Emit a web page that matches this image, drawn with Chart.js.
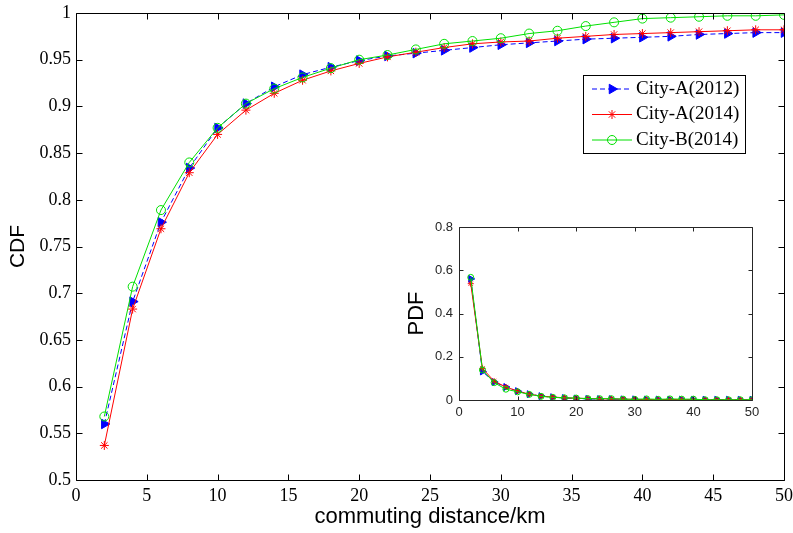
<!DOCTYPE html>
<html>
<head>
<meta charset="utf-8">
<script src="https://cdn.jsdelivr.net/npm/chart.js@4.4.1/dist/chart.umd.min.js"></script>
<style>
  html, body { margin: 0; padding: 0; background: #fff; }
  #wrap { position: relative; width: 793px; height: 533px; }
  #cdf { position: absolute; left: 0; top: 0; }
  #pdf { position: absolute; left: 380px; top: 210px; }
</style>
</head>
<body>
<div id="wrap">
  <canvas id="cdf" width="793" height="533"></canvas>
  <canvas id="pdf" width="390" height="220"></canvas>
</div>
<script>
// commuting distance (km)
const distances = [2, 4, 6, 8, 10, 12, 14, 16, 18, 20, 22, 24, 26, 28, 30, 32, 34, 36, 38, 40, 42, 44, 46, 48, 50];

// CDF, main plot
const cdfA2012 = [0.560, 0.691, 0.776, 0.834, 0.877, 0.903, 0.921, 0.934, 0.942, 0.949, 0.954, 0.957, 0.960, 0.963, 0.966, 0.968, 0.970, 0.972, 0.973, 0.974, 0.975, 0.977, 0.978, 0.979, 0.979];
const cdfA2014 = [0.537, 0.683, 0.769, 0.829, 0.870, 0.896, 0.914, 0.928, 0.938, 0.946, 0.953, 0.958, 0.963, 0.967, 0.969, 0.970, 0.973, 0.975, 0.977, 0.978, 0.979, 0.980, 0.981, 0.982, 0.982];
const cdfB2014 = [0.568, 0.707, 0.789, 0.840, 0.877, 0.903, 0.919, 0.931, 0.941, 0.950, 0.955, 0.961, 0.967, 0.970, 0.973, 0.978, 0.981, 0.986, 0.990, 0.994, 0.995, 0.996, 0.997, 0.997, 0.998];

// PDF, inset
const pdfA2012 = [0.560, 0.132, 0.083, 0.060, 0.041, 0.027, 0.018, 0.013, 0.009, 0.007, 0.005, 0.004, 0.004, 0.003, 0.003, 0.002, 0.002, 0.002, 0.002, 0.001, 0.001, 0.001, 0.001, 0.001, 0.001];
const pdfA2014 = [0.538, 0.146, 0.087, 0.060, 0.041, 0.027, 0.018, 0.014, 0.010, 0.008, 0.007, 0.005, 0.005, 0.004, 0.003, 0.002, 0.002, 0.002, 0.002, 0.001, 0.001, 0.001, 0.001, 0.001, 0.001];
const pdfB2014 = [0.567, 0.139, 0.080, 0.050, 0.038, 0.026, 0.017, 0.012, 0.010, 0.009, 0.006, 0.006, 0.006, 0.004, 0.003, 0.005, 0.003, 0.005, 0.004, 0.004, 0.001, 0.001, 0.001, 0.001, 0.001];

// tick labels
const cdfTicks = [0.5, 0.55, 0.6, 0.65, 0.7, 0.75, 0.8, 0.85, 0.9, 0.95, 1];
const distTicks = [0, 5, 10, 15, 20, 25, 30, 35, 40, 45, 50];
const pdfTicks = [0, 0.2, 0.4, 0.6, 0.8];
const insetDistTicks = [0, 10, 20, 30, 40, 50];

const seriesNames = ['City-A(2012)', 'City-A(2014)', 'City-B(2014)'];

const SERIF = '"Liberation Serif", "Times New Roman", serif';
const SANS = '"Liberation Sans", Arial, sans-serif';

function points(values) {
    return values.map((v, i) => ({ x: distances[i], y: v }));
}

function makeDatasets(a2012, a2014, b2014, r) {
    return [
        {
            label: seriesNames[0], data: points(a2012),
            borderColor: '#0000ff', backgroundColor: '#0000ff', borderWidth: 1, borderDash: [5, 3],
            pointStyle: 'triangle', pointRotation: 90, pointRadius: r + 1,
            pointBackgroundColor: '#0000ff', pointBorderColor: '#0000ff', order: 2
        },
        {
            label: seriesNames[1], data: points(a2014),
            borderColor: '#ff0000', backgroundColor: '#ff0000', borderWidth: 1,
            pointStyle: 'star', pointRadius: r,
            pointBackgroundColor: '#ff0000', pointBorderColor: '#ff0000', order: 1
        },
        {
            label: seriesNames[2], data: points(b2014),
            borderColor: '#00e000', backgroundColor: '#00e000', borderWidth: 1,
            pointStyle: 'circle', pointRadius: r,
            pointBackgroundColor: 'rgba(0,0,0,0)', pointBorderColor: '#00e000', order: 0
        }
    ];
}

// matlab style box with inward ticks on all four sides
const frameTicks = {
    id: 'frameTicks',
    afterDatasetsDraw(chart, args, opts) {
        const { ctx, chartArea: a, scales: { x, y } } = chart;
        const L = Math.round(a.left) + 0.5, R = Math.round(a.right) + 0.5;
        const T = Math.round(a.top) + 0.5, B = Math.round(a.bottom) + 0.5;
        ctx.save();
        ctx.strokeStyle = opts.color;
        ctx.lineWidth = 1;
        ctx.beginPath();
        x.ticks.forEach(t => {
            const px = Math.round(x.getPixelForValue(t.value)) + 0.5;
            ctx.moveTo(px, B); ctx.lineTo(px, B - opts.len);
            ctx.moveTo(px, T); ctx.lineTo(px, T + opts.len);
        });
        y.ticks.forEach(t => {
            const py = Math.round(y.getPixelForValue(t.value)) + 0.5;
            ctx.moveTo(L, py); ctx.lineTo(L + opts.len, py);
            ctx.moveTo(R, py); ctx.lineTo(R - opts.len, py);
        });
        ctx.rect(L, T, R - L, B - T);
        ctx.stroke();
        ctx.restore();
    }
};

// boxed legend inside the plot area
const boxLegend = {
    id: 'boxLegend',
    afterDraw(chart, args, opts) {
        const { ctx } = chart;
        ctx.save();
        ctx.fillStyle = '#fff';
        ctx.fillRect(opts.left, opts.top, opts.width, opts.height);
        ctx.strokeStyle = '#000';
        ctx.lineWidth = 1;
        ctx.strokeRect(opts.left + 0.5, opts.top + 0.5, opts.width, opts.height);
        ctx.font = opts.font;
        ctx.textBaseline = 'middle';
        chart.data.datasets.forEach((ds, i) => {
            const cy = opts.top + opts.rowStart + i * opts.rowGap;
            ctx.strokeStyle = ds.borderColor;
            ctx.setLineDash(ds.borderDash || []);
            ctx.beginPath();
            ctx.moveTo(opts.left + 9, cy);
            ctx.lineTo(opts.left + 49, cy);
            ctx.stroke();
            ctx.setLineDash([]);
            ctx.fillStyle = ds.pointBackgroundColor;
            ctx.strokeStyle = ds.pointBorderColor;
            Chart.helpers.drawPoint(ctx, {
                pointStyle: ds.pointStyle, rotation: ds.pointRotation || 0,
                radius: ds.pointRadius, borderWidth: 1
            }, opts.left + 29, cy);
            ctx.fillStyle = '#000';
            ctx.fillText(ds.label, opts.left + 53, cy);
        });
        ctx.restore();
    }
};

function fixedTicks(list) {
    return s => { s.ticks = list.map(v => ({ value: v })); };
}

new Chart(document.getElementById('cdf'), {
    type: 'line',
    data: { datasets: makeDatasets(cdfA2012, cdfA2014, cdfB2014, 4.5) },
    options: {
        responsive: false,
        animation: false,
        layout: { padding: { top: 13, right: 9, left: 0, bottom: 0 } },
        plugins: {
            legend: { display: false },
            tooltip: { enabled: false },
            frameTicks: { color: '#000', len: 6 },
            boxLegend: { left: 583, top: 75, width: 162, height: 78, rowStart: 14, rowGap: 25.5, font: '19px ' + SERIF }
        },
        scales: {
            x: {
                type: 'linear', min: 0, max: 50,
                afterBuildTicks: fixedTicks(distTicks),
                afterFit: s => { s.height = 53; s.paddingLeft = 0; s.paddingRight = 0; },
                grid: { display: false, drawTicks: false }, border: { display: false },
                ticks: { color: '#000', padding: 5, maxRotation: 0, autoSkip: false, font: { family: SERIF, size: 18 } },
                title: { display: true, text: 'commuting distance/km', color: '#000', padding: { top: 0, bottom: 3 }, font: { family: SANS, size: 22 } }
            },
            y: {
                min: 0.5, max: 1,
                afterBuildTicks: fixedTicks(cdfTicks),
                afterFit: s => { s.width = 76; s.paddingTop = 0; s.paddingBottom = 0; },
                grid: { display: false, drawTicks: false }, border: { display: false },
                ticks: { color: '#000', padding: 5, autoSkip: false, font: { family: SERIF, size: 18 }, callback: v => String(+v.toFixed(2)) },
                title: { display: true, text: 'CDF', color: '#000', padding: { top: 6, bottom: 0 }, font: { family: SANS, size: 21 } }
            }
        }
    },
    plugins: [frameTicks, boxLegend]
});

new Chart(document.getElementById('pdf'), {
    type: 'line',
    data: { datasets: makeDatasets(pdfA2012, pdfA2014, pdfB2014, 3) },
    options: {
        responsive: false,
        animation: false,
        layout: { padding: { top: 17, right: 18, left: 0, bottom: 0 } },
        plugins: {
            legend: { display: false },
            tooltip: { enabled: false },
            frameTicks: { color: '#262626', len: 4 }
        },
        scales: {
            x: {
                type: 'linear', min: 0, max: 50,
                afterBuildTicks: fixedTicks(insetDistTicks),
                afterFit: s => { s.height = 30; s.paddingLeft = 0; s.paddingRight = 0; },
                grid: { display: false, drawTicks: false }, border: { display: false },
                ticks: { color: '#262626', padding: 5, maxRotation: 0, autoSkip: false, font: { family: SANS, size: 13 } }
            },
            y: {
                min: 0, max: 0.8,
                afterBuildTicks: fixedTicks(pdfTicks),
                afterFit: s => { s.width = 79; s.paddingTop = 0; s.paddingBottom = 0; },
                grid: { display: false, drawTicks: false }, border: { display: false },
                ticks: { color: '#262626', padding: 6, autoSkip: false, font: { family: SANS, size: 13 }, callback: v => String(+v.toFixed(1)) },
                title: { display: true, text: 'PDF', color: '#000', padding: { top: 24, bottom: 0 }, font: { family: SANS, size: 22 } }
            }
        }
    },
    plugins: [frameTicks]
});
</script>
</body>
</html>
